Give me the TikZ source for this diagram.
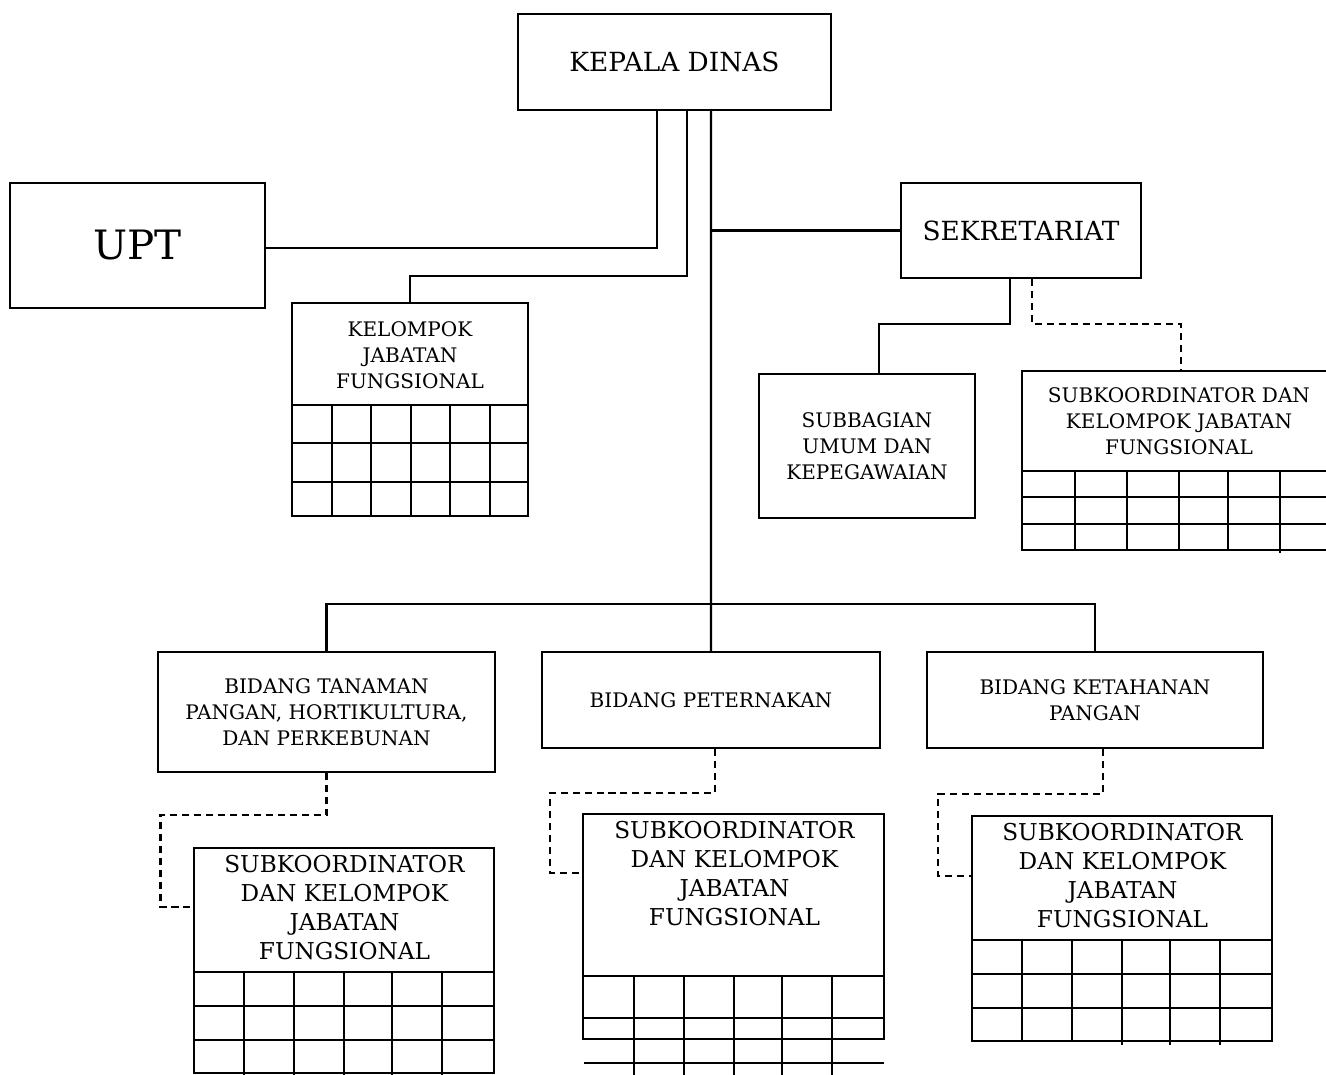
\documentclass[tikz,border=0pt]{standalone}
\usepackage{fontspec}
\setmainfont{DejaVu Serif}
\begin{document}
\begin{tikzpicture}[x=0.01cm,y=-0.01cm,
  line width=0.6pt,
  box/.style={draw,rectangle,inner sep=0pt,align=center},
  txt/.style={inner sep=0pt,align=center},
  small/.style={font=\fontsize{5.7}{7.4}\selectfont},
  med/.style={font=\fontsize{6.6}{8.25}\selectfont},
  head/.style={font=\fontsize{7.5}{9}\selectfont},
  big/.style={font=\fontsize{11.5}{13}\selectfont},
  dsh/.style={dash pattern=on 2pt off 1.4pt}]
\clip (0,0) rectangle (1326,1075);
\fill[white] (0,0) rectangle (1326,1075);
% boxes
\node (kd) [box,head,minimum width=3.13cm,minimum height=0.96cm] at (674.5,62) {KEPALA DINAS};
\node (upt) [box,big,minimum width=2.55cm,minimum height=1.25cm] at (137.5,245.5) {UPT};
\node (sekr) [box,head,minimum width=2.40cm,minimum height=0.95cm] at (1021,230.5) {SEKRETARIAT};
\node (kjf) [box,minimum width=2.36cm,minimum height=2.13cm] at (410,409.5) {};
\node (kjft) [txt,small] at (410,355) {KELOMPOK\\JABATAN\\FUNGSIONAL};
\node (sub) [box,small,minimum width=2.16cm,minimum height=1.44cm] at (867,446) {SUBBAGIAN\\UMUM DAN\\KEPEGAWAIAN};
\node (skr) [box,minimum width=3.18cm,minimum height=1.79cm] at (1181,460.5) {};
\node (skrt) [txt,small] at (1179,421) {SUBKOORDINATOR DAN\\KELOMPOK JABATAN\\FUNGSIONAL};
\node (bt) [box,small,minimum width=3.37cm,minimum height=1.20cm] at (326.5,712) {BIDANG TANAMAN\\PANGAN, HORTIKULTURA,\\DAN PERKEBUNAN};
\node (bp) [box,small,minimum width=3.38cm,minimum height=0.96cm] at (711,700) {BIDANG PETERNAKAN};
\node (bk) [box,small,minimum width=3.36cm,minimum height=0.96cm] at (1095,700) {BIDANG KETAHANAN\\PANGAN};
\node (st) [box,minimum width=3.00cm,minimum height=2.25cm] at (344,960.5) {};
\node (stt) [txt,med] at (344.5,908) {SUBKOORDINATOR\\DAN KELOMPOK\\JABATAN\\FUNGSIONAL};
\node (sp) [box,minimum width=3.01cm,minimum height=2.25cm] at (733.5,926.5) {};
\node (spt) [txt,med] at (734.5,874) {SUBKOORDINATOR\\DAN KELOMPOK\\JABATAN\\FUNGSIONAL};
\node (sk) [box,minimum width=3.00cm,minimum height=2.25cm] at (1122,928.5) {};
\node (skt) [txt,med] at (1122.5,875.5) {SUBKOORDINATOR\\DAN KELOMPOK\\JABATAN\\FUNGSIONAL};
% grids
\foreach \y in {405,443,482} \draw (292,\y) -- (528,\y);
\foreach \x in {332,371,411,450,490} \draw (\x,405) -- (\x,516);
\foreach \y in {471,497,524} \draw (1022,\y) -- (1340,\y);
\foreach \x in {1075,1127,1179,1228} \draw (\x,471) -- (\x,550);
\draw (1280,471) -- (1280,553);
\foreach \y in {972,1006,1040} \draw (194,\y) -- (494,\y);
\foreach \x in {244,294,344,392,442} \draw (\x,972) -- (\x,1080);
\foreach \y in {976,1018} \draw (583,\y) -- (884,\y);
\draw (584,1063) -- (884,1063);
\foreach \x in {634,684,734,782,832} \draw (\x,976) -- (\x,1080);
\foreach \y in {940,974,1008} \draw (972,\y) -- (1272,\y);
\foreach \x in {1022,1072} \draw (\x,940) -- (\x,1041);
\foreach \x in {1122,1170,1220} \draw (\x,940) -- (\x,1045);
% connectors
\draw ([xshift=-0.175cm]kd.south) |- ([yshift=-0.025cm]upt.east);
\draw ([xshift=0.125cm]kd.south) -- ++(0,165) -| (kjf.north);
\draw ([xshift=0.365cm]kd.south) -- (bp.north);
\draw (sekr.west -| bp.north) -- (sekr.west);
\draw ([xshift=-0.11cm]sekr.south) -- ++(0,45) -| ([xshift=0.12cm]sub.north);
\draw[dsh] ([xshift=0.11cm]sekr.south) -- ++(0,45) -| (skr.north);
\draw (bt.north) -- ++(0,-47) -| (bk.north);
\draw[dsh] (bt.south) -- ++(0,42) -- ++(-166,0) |- ([yshift=0.535cm]st.west);
\draw[dsh] ([xshift=0.04cm]bp.south) -- ++(0,44) -- ++(-165,0) |- ([yshift=0.535cm]sp.west);
\draw[dsh] ([xshift=0.08cm]bk.south) -- ++(0,45) -- ++(-165,0) |- ([yshift=0.525cm]sk.west);
\end{tikzpicture}
\end{document}
